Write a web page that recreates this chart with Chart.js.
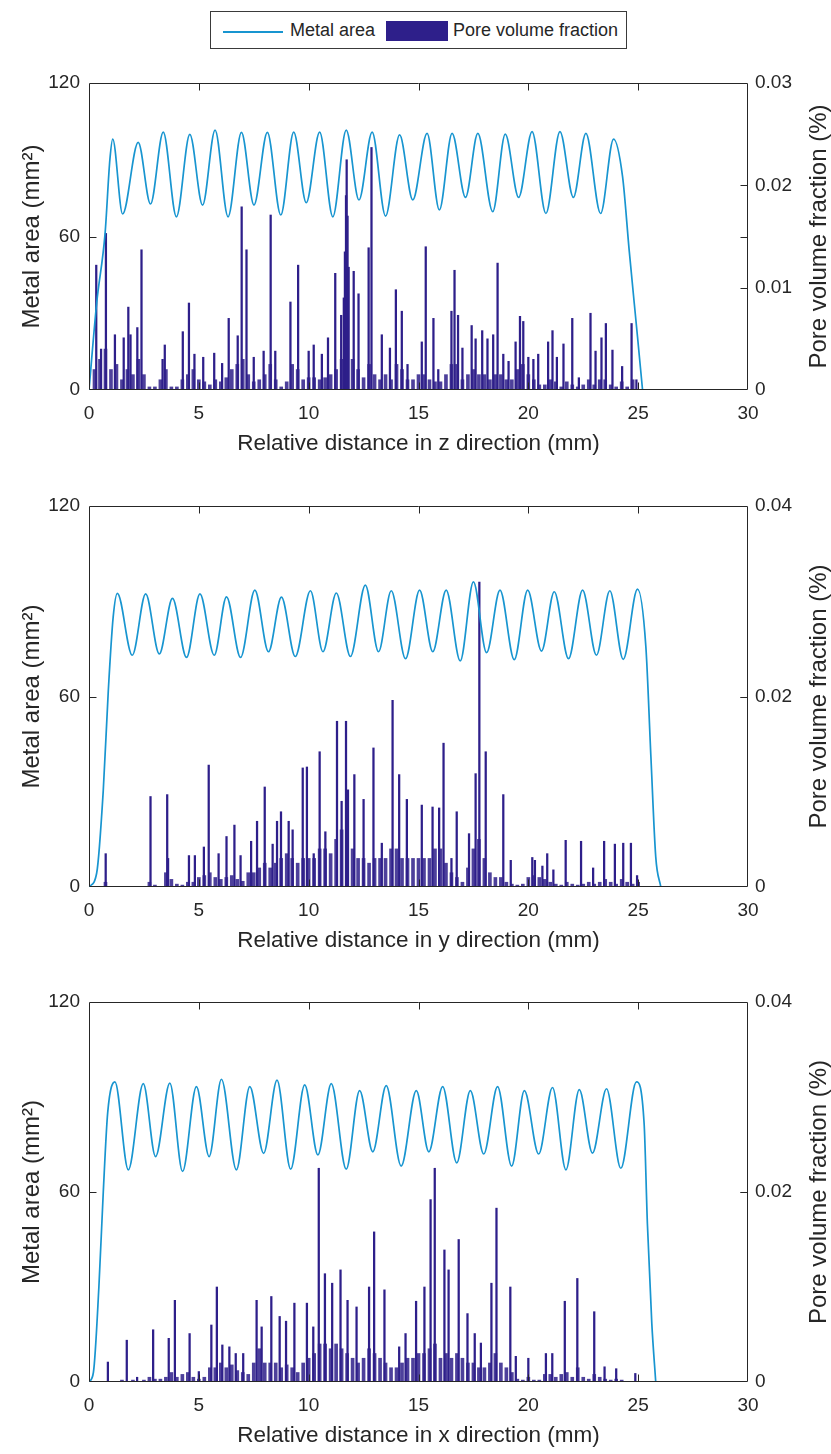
<!DOCTYPE html>
<html>
<head>
<meta charset="utf-8">
<title>Metal area and pore volume fraction</title>
<script src="https://cdn.jsdelivr.net/npm/chart.js@4.4.1/dist/chart.umd.min.js"></script>
<style>
  body { margin: 0; background: #fff; }
  #page { position: relative; width: 831px; height: 1454px; overflow: hidden; font-family: "Liberation Sans", Arial, sans-serif; color: #262626; }
  #legend { position: absolute; left: 210px; top: 11px; width: 415px; height: 36px; border: 1px solid #3a3a3a; background: #fff; }
  #legend .line { position: absolute; left: 12px; top: 19px; width: 60px; height: 2px; background: #1895d0; }
  #legend .box { position: absolute; left: 175px; top: 9px; width: 62px; height: 20px; background: #2e1f8a; }
  #legend .lbl { position: absolute; top: 0; line-height: 36px; font-size: 18px; white-space: nowrap; }
  canvas { position: absolute; left: 0; }
</style>
</head>
<body>
<div id="page">
  <div id="legend">
    <span class="line"></span><span class="lbl" style="left:79px">Metal area</span>
    <span class="box"></span><span class="lbl" style="left:242px">Pore volume fraction</span>
  </div>
  <canvas id="chartZ" width="831" height="402" style="top:60px"></canvas>
  <canvas id="chartY" width="831" height="479" style="top:480px"></canvas>
  <canvas id="chartX" width="831" height="478" style="top:976px"></canvas>
</div>
<script>
Chart.defaults.font.family = '"Liberation Sans", Arial, sans-serif';
Chart.defaults.color = '#262626';

var LINE_COLOR = '#1895d0';
var BAR_COLOR = '#2e1f8a';
var FILL_COLOR = 'rgba(46, 31, 138, 0.85)';
var AXIS_COLOR = '#262626';
var TICK_LEN = 7;

// tick values
var distTicks = [0, 5, 10, 15, 20, 25, 30];
var areaTicks = [0, 60, 120];
var poreTicksZ = [0, 0.01, 0.02, 0.03];
var poreTicksYX = [0, 0.02, 0.04];

// ---- z direction ----
var areaZX = [0, 0.35, 0.73, 0.95, 1.08, 1.53, 2.24, 2.80, 3.38, 3.98, 4.59, 5.17, 5.74, 6.33, 6.94,
  7.51, 8.12, 8.73, 9.32, 9.89, 10.5, 11.1, 11.71, 12.29, 12.89, 13.5, 14.14, 14.74, 15.39, 15.95,
  16.53, 17.14, 17.7, 18.38, 18.95, 19.56, 20.17, 20.8, 21.44, 22.05, 22.62, 23.29, 23.88, 24.29,
  24.59, 24.97, 25.2];
var areaZY = [0, 34, 61, 90, 98.1, 68.8, 96.8, 72.7, 100.8, 67.7, 99.9, 72.3, 101.6, 67.7, 100.7,
  72.3, 100.7, 68.4, 100.8, 73.2, 100.8, 67.7, 101.6, 74.3, 100.8, 68, 99.7, 74.3, 100.3, 70.4,
  100.3, 75.3, 100.3, 69.7, 100, 75.3, 101, 69, 101, 75.3, 100.3, 69, 98.1, 83.4,
  54.7, 20.8, 0];
var poreZX = [0.33, 0.55, 0.77, 1.18, 1.58, 1.79, 1.89, 2.2, 2.39, 3.35,
  3.45, 4.27, 4.55, 4.8, 5.2, 5.7, 6.06, 6.36, 6.77, 6.95,
  7.17, 7.5, 7.95, 8.27, 8.48, 9.17, 9.52, 10.0, 10.23, 10.6,
  10.88, 11.21, 11.48, 11.6, 11.65, 11.7, 11.73, 11.77, 11.82, 12.05,
  12.27, 12.73, 12.86, 13.33, 13.7, 13.97, 14.24, 14.5, 15.15, 15.33,
  15.68, 15.9, 16.5, 16.64, 16.8, 17.0, 17.42, 17.6, 17.9, 18.14,
  18.4, 18.6, 18.86, 19.1, 19.42, 19.62, 19.77, 20.0, 20.23, 20.45,
  20.9, 21.1, 21.3, 21.6, 22.0, 22.3, 22.83, 23.06, 23.33, 23.53,
  23.83, 24.27, 24.7, 24.92];
var poreZY = [0.0122, 0.004, 0.0153, 0.0054, 0.0051, 0.0081, 0.0054, 0.0061, 0.0137, 0.003,
  0.0044, 0.0057, 0.0085, 0.0035, 0.0032, 0.0036, 0.0026, 0.007, 0.0053, 0.0179,
  0.0137, 0.0032, 0.0038, 0.0171, 0.0038, 0.0086, 0.0122, 0.0038, 0.0044, 0.0035,
  0.0051, 0.0114, 0.0073, 0.009, 0.0135, 0.019, 0.0225, 0.017, 0.012, 0.0116,
  0.0094, 0.0139, 0.0237, 0.0054, 0.0041, 0.0098, 0.0077, 0.0025, 0.0047, 0.014,
  0.007, 0.002, 0.0077, 0.0117, 0.0073, 0.0041, 0.0063, 0.005, 0.0058, 0.005,
  0.0054, 0.0124, 0.0035, 0.0028, 0.0047, 0.0072, 0.0067, 0.0032, 0.003, 0.0035,
  0.0047, 0.0058, 0.0032, 0.0045, 0.007, 0.0012, 0.0075, 0.0038, 0.0051, 0.0065,
  0.0039, 0.0023, 0.0065, 0.001];
// dense low fill under the spikes, one reading every 0.25 mm from 0.25 mm
var poreZBase = [0.002, 0.003, 0.004, 0.002, 0.0025, 0.001, 0.002, 0.0015, 0.003, 0.0015,
  0.0003, 0.0003, 0.001, 0.002, 0.0003, 0.0003, 0.001, 0.0015, 0.002, 0.001,
  0.0008, 0.0005, 0.001, 0.0008, 0.0012, 0.002, 0.0025, 0.003, 0.0015, 0.0008,
  0.001, 0.0015, 0.0025, 0.001, 0.0003, 0.0008, 0.0025, 0.002, 0.001, 0.0012,
  0.0012, 0.001, 0.0012, 0.0015, 0.002, 0.003, 0.007, 0.003, 0.002, 0.0012,
  0.0025, 0.0015, 0.001, 0.0015, 0.001, 0.0025, 0.002, 0.001, 0.001, 0.0015,
  0.0015, 0.001, 0.0008, 0.0008, 0.0015, 0.0025, 0.0025, 0.001, 0.0015, 0.002,
  0.0015, 0.0015, 0.001, 0.0015, 0.0015, 0.001, 0.001, 0.002, 0.0025, 0.0015,
  0.001, 0.0005, 0.0005, 0.001, 0.0008, 0.0003, 0.0008, 0.0005, 0.0003, 0.0005,
  0.001, 0.0005, 0.001, 0.001, 0.0005, 0.0003, 0.0008, 0.0003, 0.001, 0];

// ---- y direction ----
var areaYX = [0, 0.35, 0.65, 0.88, 1.1, 1.29, 1.97, 2.58, 3.2, 3.8, 4.44, 5.05, 5.7, 6.26, 6.9, 7.55,
  8.17, 8.76, 9.39, 10.08, 10.65, 11.26, 11.9, 12.58, 13.18, 13.76, 14.41, 15.05, 15.65, 16.26,
  16.9, 17.5, 18.1, 18.71, 19.36, 19.97, 20.6, 21.18, 21.83, 22.47, 23.1, 23.71, 24.32, 24.97,
  25.35, 25.58, 25.8, 26.03];
var areaYY = [0, 4.4, 30.5, 62, 85, 92.5, 73, 92.3, 73.4, 90.9, 72.3, 92.3, 73, 91.4, 72.3, 93.5,
  74.1, 91.3, 72.6, 93.3, 74.1, 92.6, 72.6, 95.1, 74.1, 93.3, 71.9, 93.5, 74.1, 93.5,
  71.2, 96.1, 73.8, 93.5, 71.6, 93.5, 74.3, 93, 71.9, 93.5, 73, 93.3, 71.7, 93.8,
  75.7, 41, 9.5, 0];
var poreYX = [0.76, 2.8, 3.56, 3.6, 4.55, 4.82, 5.23, 5.45, 5.9, 6.26,
  6.62, 6.9, 7.38, 7.65, 8.0, 8.36, 8.56, 8.74, 9.09, 9.27,
  9.73, 9.92, 10.23, 10.5, 10.76, 11.29, 11.5, 11.7, 11.79, 12.08,
  12.5, 12.95, 13.33, 13.82, 14.12, 14.47, 15.15, 15.64, 15.94, 16.14,
  16.5, 16.74, 17.3, 17.6, 17.77, 18.06, 18.86, 19.2, 20.18, 20.3,
  20.64, 20.86, 21.14, 21.7, 22.4, 22.95, 23.45, 23.94, 24.32, 24.67,
  24.95];
var poreYY = [0.0035, 0.0095, 0.0097, 0.003, 0.0033, 0.0033, 0.0042, 0.0128, 0.0035, 0.0053,
  0.0065, 0.0033, 0.0048, 0.0069, 0.0105, 0.0045, 0.0069, 0.0079, 0.0069, 0.006,
  0.0125, 0.0126, 0.0035, 0.0142, 0.0058, 0.0174, 0.009, 0.0174, 0.0102, 0.0118,
  0.0092, 0.0146, 0.0046, 0.0196, 0.0118, 0.0092, 0.0086, 0.0084, 0.0083, 0.0151,
  0.003, 0.0079, 0.0056, 0.0119, 0.032, 0.0142, 0.0097, 0.0028, 0.0031, 0.0028,
  0.0022, 0.0035, 0.0018, 0.0049, 0.0048, 0.002, 0.0048, 0.0045, 0.0046, 0.0046,
  0.0012];
var poreYBase = [0, 0, 0.0005, 0, 0, 0, 0, 0, 0, 0,
  0.0005, 0.0002, 0, 0.0015, 0.0008, 0.0003, 0.0002, 0.0005, 0.0005, 0.001,
  0.0012, 0.0015, 0.001, 0.0008, 0.001, 0.0012, 0.0008, 0.0006, 0.0015, 0.0015,
  0.002, 0.0025, 0.002, 0.0025, 0.003, 0.0035, 0.003, 0.0025, 0.003, 0.003,
  0.003, 0.004, 0.004, 0.0035, 0.005, 0.006, 0.0055, 0.004, 0.003, 0.003,
  0.0025, 0.003, 0.003, 0.003, 0.004, 0.004, 0.003, 0.003, 0.003, 0.003,
  0.003, 0.003, 0.004, 0.004, 0.0025, 0.0015, 0.001, 0.0005, 0.002, 0.004,
  0.005, 0.003, 0.0015, 0.001, 0.001, 0.0005, 0.0003, 0.0002, 0.0003, 0.001,
  0.0012, 0.001, 0.0008, 0.0005, 0.0003, 0.0002, 0.0005, 0.0003, 0.0002, 0.0003,
  0.0005, 0.0003, 0.0005, 0.0008, 0.0005, 0.0003, 0.0008, 0.0005, 0.0003, 0.0005];

// ---- x direction ----
var areaXX = [0, 0.2, 0.45, 0.65, 0.85, 1.18, 1.79, 2.47, 3.03, 3.68, 4.26, 4.89, 5.47, 6.03, 6.71, 7.32,
  7.95, 8.56, 9.18, 9.82, 10.42, 11.03, 11.71, 12.32, 12.92, 13.53, 14.21, 14.9, 15.47, 16.1,
  16.74, 17.36, 17.97, 18.6, 19.24, 19.82, 20.47, 21.1, 21.71, 22.32, 22.92, 23.56, 24.21, 24.92,
  25.27, 25.42, 25.62, 25.8];
var areaXY = [0, 3, 30, 60, 85, 94.8, 67, 94.2, 71.2, 94.4, 66.5, 93.3, 71.2, 95.6, 67, 93.3,
  72.2, 95.3, 67.2, 93.8, 71.7, 94.2, 67.2, 92, 72.7, 93.6, 68.2, 92, 72.7, 93.3,
  69.2, 92, 72, 93.3, 68.2, 92, 72, 93, 67, 92.3, 72.3, 92.6, 67.5, 94.8,
  81.7, 50, 18.6, 0];
var poreXX = [0.86, 1.72, 2.19, 2.92, 3.63, 3.91, 4.58, 5.0, 5.57, 5.82,
  6.07, 6.39, 6.68, 7.02, 7.63, 7.86, 8.3, 8.68, 8.97, 9.35,
  9.92, 10.21, 10.46, 10.74, 11.07, 11.45, 11.77, 12.18, 12.75, 12.98,
  13.45, 14.12, 14.41, 14.89, 15.27, 15.55, 15.74, 16.18, 16.37, 16.83,
  17.23, 17.56, 17.84, 18.32, 18.55, 19.18, 19.43, 20.0, 20.8, 21.09,
  21.66, 22.23, 23.0, 23.47, 24.0, 24.87];
var poreXY = [0.0021, 0.0044, 0.0005, 0.0055, 0.0046, 0.0086, 0.0051, 0.0011, 0.006, 0.01,
  0.0039, 0.0037, 0.003, 0.003, 0.0086, 0.0058, 0.009, 0.0069, 0.0064, 0.0083,
  0.0083, 0.0058, 0.0225, 0.0114, 0.0104, 0.0118, 0.0086, 0.0079, 0.01, 0.0158,
  0.0097, 0.0037, 0.0051, 0.0085, 0.01, 0.0192, 0.0225, 0.0139, 0.0118, 0.015,
  0.0072, 0.0051, 0.0041, 0.0104, 0.0183, 0.01, 0.0027, 0.0025, 0.003, 0.003,
  0.0085, 0.0109, 0.0074, 0.0016, 0.0014, 0.0009];
var poreXBase = [0, 0, 0, 0, 0, 0.0002, 0, 0.0002, 0, 0.0002,
  0.0005, 0.0003, 0.0003, 0.0005, 0.001, 0.0005, 0.0008, 0.001, 0.0005, 0.0003,
  0.0005, 0.0015, 0.0015, 0.002, 0.0015, 0.0018, 0.0012, 0.001, 0.0008, 0.002,
  0.0035, 0.002, 0.002, 0.002, 0.0015, 0.0018, 0.0015, 0.001, 0.002, 0.0025,
  0.003, 0.004, 0.004, 0.0035, 0.004, 0.0035, 0.003, 0.0025, 0.002, 0.0025,
  0.0035, 0.003, 0.0025, 0.002, 0.0015, 0.0015, 0.002, 0.0025, 0.0025, 0.003,
  0.003, 0.0035, 0.004, 0.0025, 0.003, 0.0025, 0.003, 0.0025, 0.002, 0.002,
  0.0015, 0.0015, 0.002, 0.003, 0.002, 0.0015, 0.001, 0.0003, 0.0002, 0.0005,
  0.0002, 0.0002, 0.0008, 0.0008, 0.0005, 0.0008, 0.001, 0.0005, 0.0015, 0.0005,
  0.0003, 0.0008, 0.0005, 0.0003, 0.0002, 0.0003, 0.0002, 0, 0, 0];
var BASE_STEP = 0.25;

function points(xs, ys) {
  var out = [];
  for (var i = 0; i < xs.length; i++) {
    out.push({ x: xs[i], y: ys[i] });
  }
  return out;
}

function basePoints(vals) {
  return vals.map(function (v, i) { return { x: (i + 1) * BASE_STEP, y: v }; });
}

function tickList(vals) {
  return function (s) { s.ticks = vals.map(function (v) { return { value: v }; }); };
}

// MATLAB style box with inward ticks, and the right title read bottom-to-top
var matlabBox = {
  id: 'matlabBox',
  afterDraw: function (chart) {
    var ctx = chart.ctx, a = chart.chartArea, s = chart.scales;
    var L = Math.round(a.left) + 0.5, R = Math.round(a.right) - 0.5;
    var T = Math.round(a.top) + 0.5, B = Math.round(a.bottom) - 0.5;
    ctx.save();
    ctx.strokeStyle = AXIS_COLOR;
    ctx.lineWidth = 1;
    ctx.beginPath();
    ctx.rect(L, T, R - L, B - T);
    s.x.ticks.forEach(function (t) {
      if (t.value <= s.x.min || t.value >= s.x.max) return;
      var px = Math.round(s.x.getPixelForValue(t.value)) + 0.5;
      ctx.moveTo(px, B); ctx.lineTo(px, B - TICK_LEN);
      ctx.moveTo(px, T); ctx.lineTo(px, T + TICK_LEN);
    });
    s.y.ticks.forEach(function (t) {
      if (t.value <= s.y.min || t.value >= s.y.max) return;
      var py = Math.round(s.y.getPixelForValue(t.value)) + 0.5;
      ctx.moveTo(L, py); ctx.lineTo(L + TICK_LEN, py);
      ctx.moveTo(R, py); ctx.lineTo(R - TICK_LEN, py);
    });
    s.y1.ticks.forEach(function (t) {
      if (t.value <= s.y1.min || t.value >= s.y1.max) return;
      var py = Math.round(s.y1.getPixelForValue(t.value)) + 0.5;
      ctx.moveTo(R, py); ctx.lineTo(R - TICK_LEN, py);
    });
    ctx.stroke();

    ctx.translate(819, (a.top + a.bottom) / 2);
    ctx.rotate(-Math.PI / 2);
    ctx.fillStyle = AXIS_COLOR;
    ctx.font = '24px "Liberation Sans", Arial, sans-serif';
    ctx.textAlign = 'center';
    ctx.textBaseline = 'middle';
    ctx.fillText('Pore volume fraction (%)', 0, 0);
    ctx.restore();
  }
};

function drawPanel(id, p) {
  var ctx = document.getElementById(id).getContext('2d');
  return new Chart(ctx, {
    type: 'bar',
    data: {
      datasets: [
        {
          type: 'line', label: 'Metal area', yAxisID: 'y',
          data: points(p.areaX, p.areaY),
          borderColor: LINE_COLOR, borderWidth: 1.7, pointRadius: 0, fill: false,
          cubicInterpolationMode: 'monotone', order: 0
        },
        {
          label: 'Pore volume fraction', yAxisID: 'y1',
          data: points(p.poreX, p.poreY),
          backgroundColor: BAR_COLOR, barThickness: 1.6, grouped: false, order: 1
        },
        {
          label: 'Pore volume fraction (fill)', yAxisID: 'y1',
          data: basePoints(p.poreBase),
          backgroundColor: FILL_COLOR, barThickness: 3, grouped: false, order: 2
        }
      ]
    },
    options: {
      responsive: false,
      animation: false,
      devicePixelRatio: 1,
      events: [],
      layout: { padding: { top: p.padTop, left: 0, right: 0, bottom: 0 } },
      plugins: { legend: { display: false }, tooltip: { enabled: false } },
      scales: {
        x: {
          type: 'linear', position: 'bottom', min: 0, max: 30, offset: false,
          afterBuildTicks: tickList(distTicks),
          afterFit: function (s) { s.height = 72; },
          grid: { display: false, drawTicks: false, offset: false },
          border: { display: false },
          ticks: { padding: 12, maxRotation: 0, autoSkip: false, font: { size: 19 } },
          title: { display: true, text: p.xTitle, font: { size: 22.5 }, padding: { top: 0, bottom: 5 } }
        },
        y: {
          position: 'left', min: 0, max: 120,
          afterBuildTicks: tickList(areaTicks),
          afterFit: function (s) { s.width = 89; },
          grid: { display: false, drawTicks: false },
          border: { display: false },
          ticks: { padding: 9, font: { size: 19 } },
          title: { display: true, text: 'Metal area (mm²)', font: { size: 24 }, padding: { top: 17.6, bottom: 0 } }
        },
        y1: {
          position: 'right', min: 0, max: p.poreTicks[p.poreTicks.length - 1],
          afterBuildTicks: tickList(p.poreTicks),
          afterFit: function (s) { s.width = 83; },
          grid: { display: false, drawTicks: false },
          border: { display: false },
          ticks: {
            padding: 7, font: { size: 19 },
            callback: function (v) { return String(+v.toFixed(3)); }
          }
        }
      }
    },
    plugins: [matlabBox]
  });
}

drawPanel('chartZ', {
  areaX: areaZX, areaY: areaZY, poreX: poreZX, poreY: poreZY, poreBase: poreZBase,
  poreTicks: poreTicksZ, padTop: 23, xTitle: 'Relative distance in z direction (mm)'
});
drawPanel('chartY', {
  areaX: areaYX, areaY: areaYY, poreX: poreYX, poreY: poreYY, poreBase: poreYBase,
  poreTicks: poreTicksYX, padTop: 26, xTitle: 'Relative distance in y direction (mm)'
});
drawPanel('chartX', {
  areaX: areaXX, areaY: areaXY, poreX: poreXX, poreY: poreXY, poreBase: poreXBase,
  poreTicks: poreTicksYX, padTop: 26, xTitle: 'Relative distance in x direction (mm)'
});
</script>
</body>
</html>
